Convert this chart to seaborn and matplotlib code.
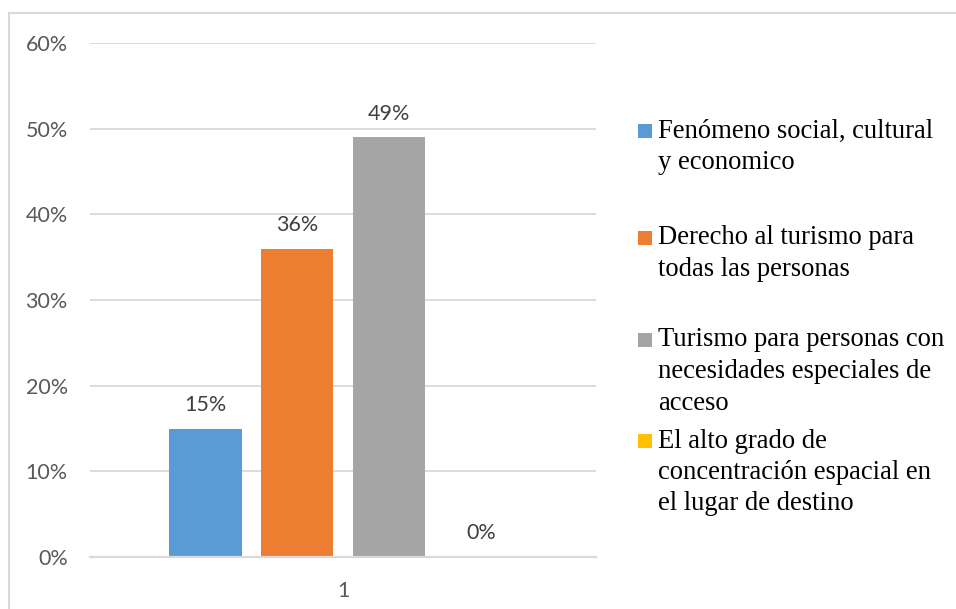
import matplotlib
matplotlib.use("Agg")
import matplotlib.pyplot as plt
import seaborn as sns
import pandas as pd
from matplotlib.lines import Line2D
from matplotlib.patches import Rectangle

categories = ["1", "1", "1", "1"]
series = [
    "Fenómeno social, cultural\ny economico",
    "Derecho al turismo para\ntodas las personas",
    "Turismo para personas con\nnecesidades especiales de\nacceso",
    "El alto grado de\nconcentración espacial en\nel lugar de destino",
]
values = [0.15, 0.36, 0.49, 0.0]
colors = ["#5B9BD5", "#ED7D31", "#A5A5A5", "#FFC000"]
yticks = [0, 0.1, 0.2, 0.3, 0.4, 0.5, 0.6]
ytick_labels = ["0%", "10%", "20%", "30%", "40%", "50%", "60%"]

df = pd.DataFrame({"cat": categories, "serie": series, "val": values})

sns.set_theme(style="white")
W, H = 956, 609
fig = plt.figure(figsize=(W / 100, H / 100), dpi=100)
ax = fig.add_axes([90 / W, 1 - 557 / H, (596 - 90) / W, (557 - 43) / H])

sns.barplot(data=df, x="cat", y="val", hue="serie", hue_order=series,
            palette=colors, width=0.727, gap=0.207, ax=ax, legend=False,
            saturation=1, errorbar=None, linewidth=0)

ax.set_ylim(0, 0.6)
ax.set_xlim(-0.5, 0.5)
ax.set_yticks(yticks)
ax.set_yticklabels(ytick_labels)
ax.set_xlabel("")
ax.set_ylabel("")
ax.yaxis.grid(True, color="#D9D9D9", linewidth=1.3)
ax.set_axisbelow(True)
for s in ["top", "right", "left"]:
    ax.spines[s].set_visible(False)
ax.spines["bottom"].set_color("#D9D9D9")
ax.spines["bottom"].set_linewidth(1.6)
ax.tick_params(axis="both", length=0, labelsize=15.5, labelcolor="#595959")
ax.tick_params(axis="y", pad=16)
ax.tick_params(axis="x", pad=17)
for lab in ax.get_xticklabels() + ax.get_yticklabels():
    lab.set_fontfamily("Lato")

for cont in ax.containers:
    for bar in cont:
        h = bar.get_height()
        ax.annotate(f"{h*100:.0f}%", (bar.get_x() + bar.get_width() / 2, h),
                    xytext=(0, 17), textcoords="offset points",
                    ha="center", va="center", fontsize=15.5, color="#404040",
                    fontfamily="Lato")

# legend drawn at Excel-like positions
entry_y = [131, 238, 340, 441]
line_gap = 31.5
for lab, col, y0 in zip(series, colors, entry_y):
    fig.add_artist(Rectangle((638 / W, 1 - (y0 + 7) / H), 14 / W, 14 / H,
                             transform=fig.transFigure, color=col, lw=0))
    for i, line in enumerate(lab.split("\n")):
        fig.text(658 / W, 1 - (y0 + i * line_gap) / H, line,
                 ha="left", va="center", fontsize=19.2, color="black",
                 fontfamily="Liberation Serif")

# chart-area border (left and top visible)
fig.add_artist(Line2D([9 / W, 9 / W], [0, 1 - 13 / H], transform=fig.transFigure,
                      color="#D9D9D9", lw=1.5))
fig.add_artist(Line2D([9 / W, 1], [1 - 13 / H, 1 - 13 / H], transform=fig.transFigure,
                      color="#D9D9D9", lw=1.5))

fig.savefig("out.png", dpi=100)
